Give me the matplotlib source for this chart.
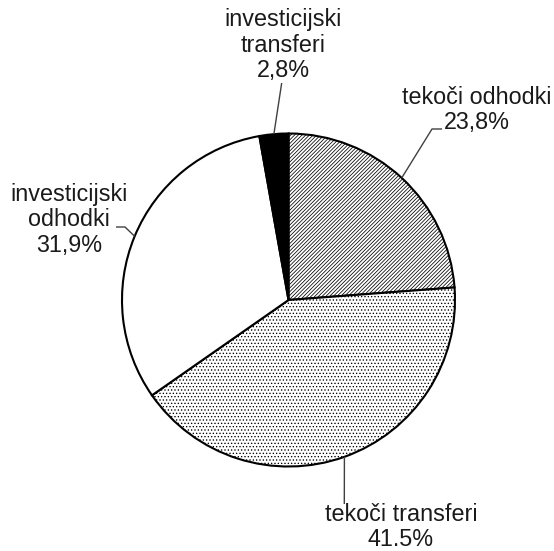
import numpy as np
import matplotlib
matplotlib.use('Agg')
import matplotlib.pyplot as plt

# data
categories = ['tekoči odhodki', 'tekoči transferi', 'investicijski odhodki', 'investicijski transferi']
values = [23.8, 41.5, 31.9, 2.8]
label_texts = ['tekoči odhodki\n23,8%', 'tekoči transferi\n41.5%',
               'investicijski\nodhodki\n31,9%', 'investicijski\ntransferi\n2,8%']

# style / layout
W, H = 554, 551
plt.rcParams['font.family'] = ['Liberation Sans', 'DejaVu Sans']
plt.rcParams['hatch.linewidth'] = 0.55
fills = ['white', 'white', 'white', 'black']
hatches = ['/////////', '.....', None, None]
# pixel layout (y from top): leader elbow points and text centres
leader_pts = [[(432, 129), (442, 129)],
              [(344.3, 504)],
              [(125, 227), (116, 227)],
              [(281.7, 83)]]
text_pos = [(477, 110), (401, 527), (69, 220), (283, 45)]

fig = plt.figure(figsize=(W / 100, H / 100), dpi=100)
ax = fig.add_axes([0, 0, 1, 1])
cx, cy, R = 288.5, H - 300, 166.5
wedges, _ = ax.pie(values, center=(cx, cy), radius=R, startangle=90,
                   counterclock=False, colors=fills, frame=True,
                   wedgeprops=dict(edgecolor='black', linewidth=1.5))
for w, h in zip(wedges, hatches):
    if h:
        w.set_hatch(h)
ax.set_xlim(0, W)
ax.set_ylim(0, H)
ax.set_aspect('equal')
ax.axis('off')

for w, pts, tp, txt in zip(wedges, leader_pts, text_pos, label_texts):
    mid = np.deg2rad((w.theta1 + w.theta2) / 2)
    xs = [cx + R * np.cos(mid)] + [p[0] for p in pts]
    ys = [cy + R * np.sin(mid)] + [H - p[1] for p in pts]
    ax.plot(xs, ys, color='#404040', lw=1.0, solid_capstyle='butt')
    ax.text(tp[0], H - tp[1], txt, ha='center', va='center', fontsize=16.8,
            linespacing=1.12, color='#1a1a1a')

fig.savefig('out.png', dpi=100)
